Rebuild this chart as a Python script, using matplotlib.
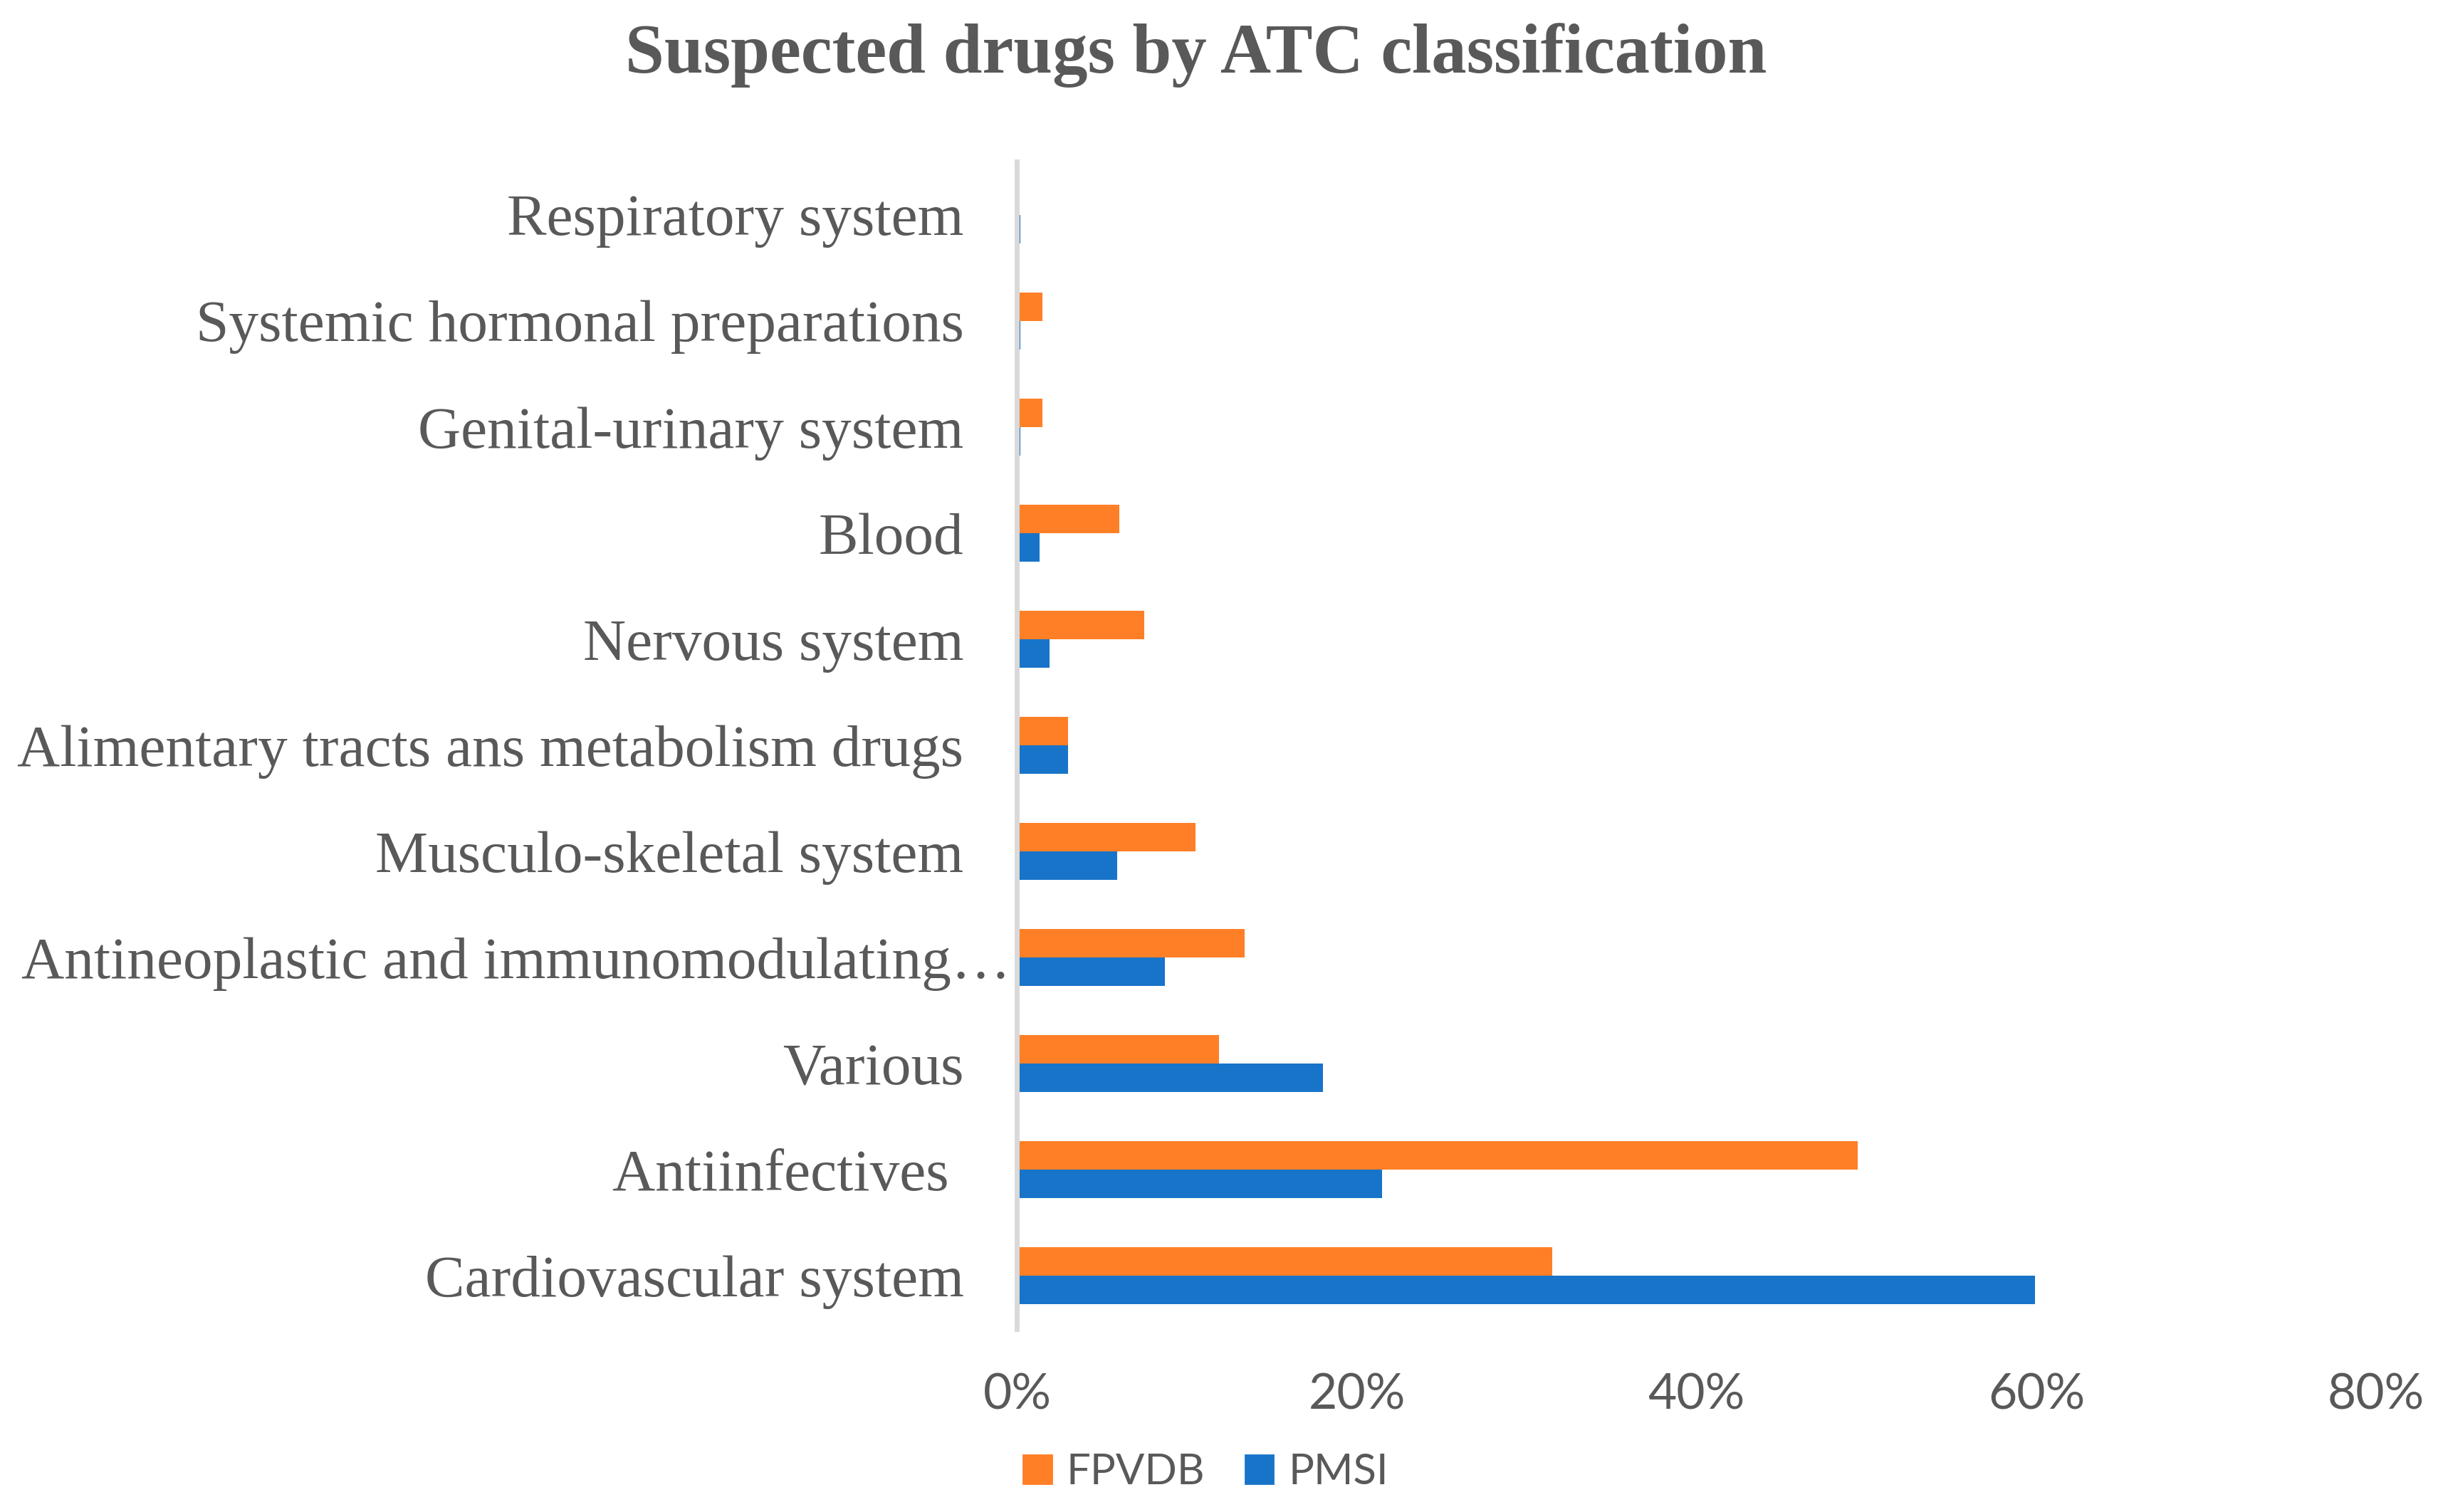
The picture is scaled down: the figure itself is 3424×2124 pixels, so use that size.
import matplotlib
matplotlib.use("Agg")
import matplotlib.pyplot as plt
from matplotlib.patches import Patch
from matplotlib.ticker import FuncFormatter
from matplotlib.transforms import ScaledTranslation
import numpy as np

# categories listed bottom -> top
categories = [
    "Cardiovascular system",
    "Antiinfectives ",
    "Various",
    "Antineoplastic and immunomodulating\u2026",
    "Musculo-skeletal system",
    "Alimentary tracts ans metabolism drugs",
    "Nervous system",
    "Blood",
    "Genital-urinary system",
    "Systemic hormonal preparations",
    "Respiratory system",
]
fpvdb = [31.5, 49.5, 11.9, 13.4, 10.5, 3.0, 7.5, 6.0, 1.5, 1.5, 0.0]
pmsi = [59.9, 21.5, 18.0, 8.7, 5.9, 3.0, 1.9, 1.3, 0.2, 0.2, 0.2]
xticks = [0, 20, 40, 60, 80]

ORANGE = "#FF7F27"
BLUE = "#1874C9"
TEXT = "#595959"
AXIS = "#D9D9D9"

fig = plt.figure(figsize=(17.12, 10.62), dpi=200)
ax = fig.add_axes([0.4172, 0.1210, 0.9746 - 0.4172, 0.8931 - 0.1210])

y = np.arange(len(categories))
h = 0.268
ax.barh(y + h / 2, fpvdb, height=h, color=ORANGE, zorder=1)
ax.barh(y - h / 2, pmsi, height=h, color=BLUE, zorder=1)

ax.set_xlim(0, 80)
ax.set_ylim(-0.5, len(categories) - 0.5)
ax.set_xticks(xticks)
ax.xaxis.set_major_formatter(FuncFormatter(lambda v, p: f"{v:.0f}%"))
ax.set_yticks(y)
ax.set_yticklabels(categories, family="Liberation Serif", fontsize=30, color=TEXT)

for t in ax.get_xticklabels():
    t.set_family("Lato")
    t.set_fontsize(25)
    t.set_color(TEXT)

ax.tick_params(axis="y", length=0, pad=27)
ax.tick_params(axis="x", length=0, pad=22)

# the truncated label runs its ellipsis into the gap, as in the original
lab = ax.get_yticklabels()[3]
lab.set_transform(lab.get_transform() + ScaledTranslation(0.33, 0, fig.dpi_scale_trans))

for s in ["top", "right", "bottom"]:
    ax.spines[s].set_visible(False)
ax.spines["left"].set_color(AXIS)
ax.spines["left"].set_linewidth(2.5)
ax.spines["left"].set_zorder(3)

fig.text(0.4905, 1 - 102 / 2124, "Suspected drugs by ATC classification",
         ha="center", va="baseline", family="Liberation Serif",
         fontweight="bold", fontsize=35.5, color=TEXT)

handles = [Patch(color=ORANGE, label="FPVDB"), Patch(color=BLUE, label="PMSI")]
fig.legend(handles=handles, loc="center", bbox_to_anchor=(0.4946, 0.0264),
           ncol=2, frameon=False, handlelength=0.66, handleheight=0.64,
           handletextpad=0.35, columnspacing=0.95,
           prop={"family": "Lato", "size": 21.5}, labelcolor=TEXT)

fig.savefig("out.png", dpi=200, facecolor="white")
